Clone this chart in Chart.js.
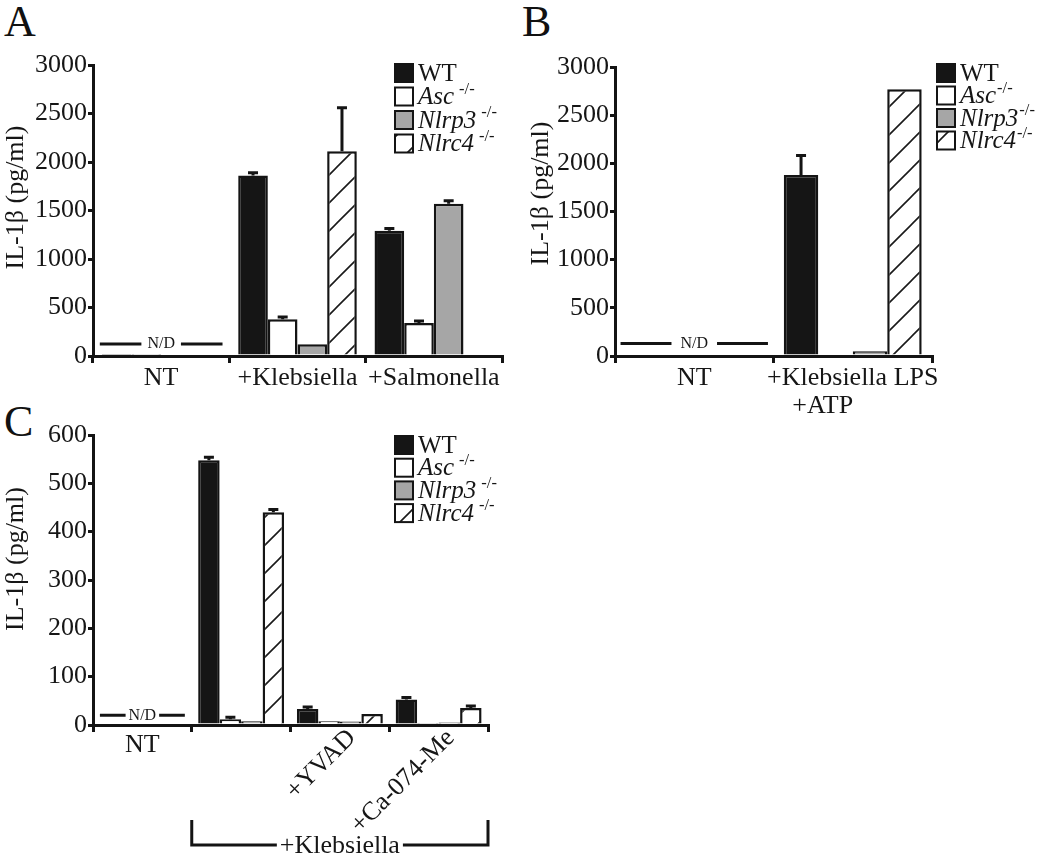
<!DOCTYPE html>
<html><head><meta charset="utf-8">
<script src="https://cdn.jsdelivr.net/npm/chart.js@4.4.0/dist/chart.umd.min.js"></script>
<style>
html,body{margin:0;padding:0;background:#fff;}
body{width:1050px;height:862px;position:relative;overflow:hidden;}
canvas{position:absolute;}
.letter{position:absolute;font-family:'Liberation Serif','Times New Roman',serif;font-size:44px;line-height:1;color:#111;}
</style></head><body>
<div class="letter" style="left:4px;top:0px">A</div>
<div class="letter" style="left:522px;top:0px">B</div>
<div class="letter" style="left:4px;top:400px">C</div>
<canvas id="cA" width="520" height="400" style="left:0;top:0"></canvas>
<canvas id="cB" width="530" height="430" style="left:520px;top:0"></canvas>
<canvas id="cC" width="520" height="472" style="left:0;top:390px"></canvas>
<script>
// ---------- data ----------
const seriesNames = ['WT', 'Asc', 'Nlrp3', 'Nlrc4'];
const koSuffix = '-/-';
const yTitle = 'IL-1\u03b2 (pg/ml)';
const ndText = 'N/D';

// Panel A
const catsA = ['NT', '+Klebsiella', '+Salmonella'];
const A_WT    = [20, 1860, 1290];
const A_Asc   = [10, 380, 340];
const A_Nlrp3 = [null, 120, 1570];
const A_Nlrc4 = [null, 2110, null];
const A_errWT    = [0, 20, 15];
const A_errAsc   = [0, 12, 10];
const A_errNlrp3 = [0, 0, 20];
const A_errNlrc4 = [0, 440, 0];
const yTicksA = [0, 500, 1000, 1500, 2000, 2500, 3000];
const ndA = 125;

// Panel B
const catsB = ['NT', '+Klebsiella LPS'];
const catsB2 = ['', '+ATP'];
const B_WT    = [null, 1880];
const B_Asc   = [null, null];
const B_Nlrp3 = [null, 50];
const B_Nlrc4 = [null, 2770];
const B_errWT    = [0, 190];
const B_errAsc   = [0, 0];
const B_errNlrp3 = [0, 0];
const B_errNlrc4 = [0, 0];
const yTicksB = [0, 500, 1000, 1500, 2000, 2500, 3000];
const ndB = 130;

// Panel C
const catsC = ['NT', '', '+YVAD', '+Ca-074-Me'];
const bracketC = '+Klebsiella';
const C_WT    = [null, 548, 33, 53];
const C_Asc   = [null, 12, 8, 2];
const C_Nlrp3 = [null, 8, 7, 5];
const C_Nlrc4 = [null, 440, 23, 35];
const C_errWT    = [0, 4, 2, 2];
const C_errAsc   = [0, 2, 0, 0];
const C_errNlrp3 = [0, 0, 0, 0];
const C_errNlrc4 = [0, 4, 0, 2];
const yTicksC = [0, 100, 200, 300, 400, 500, 600];
const ndC = 20;

// ---------- styles ----------
const SERIF = "'Liberation Serif','Times New Roman',serif";
const INK = '#141414';
const TXT = '#161616';
const fills = ['#151515', '#ffffff', '#a6a6a6', 'hatch'];

const hatchTile = (() => {
  const s = 28, c = document.createElement('canvas');
  c.width = c.height = s;
  const g = c.getContext('2d');
  g.fillStyle = '#fff'; g.fillRect(0, 0, s, s);
  g.strokeStyle = '#1a1a1a'; g.lineWidth = 1.6;
  g.beginPath();
  g.moveTo(-2, s + 2); g.lineTo(s + 2, -2);
  g.moveTo(-3, 3); g.lineTo(3, -3);
  g.moveTo(s - 3, s + 3); g.lineTo(s + 3, s - 3);
  g.stroke();
  return c;
})();
const patCache = new WeakMap();
function hatchFor(chart) {
  if (!patCache.has(chart)) patCache.set(chart, chart.ctx.createPattern(hatchTile, 'repeat'));
  return patCache.get(chart);
}
function fillFor(i, chart) { return fills[i] === 'hatch' ? hatchFor(chart) : fills[i]; }

function makeDatasets(values, errors) {
  return seriesNames.map((name, i) => ({
    label: name,
    data: values[i],
    errors: errors[i],
    backgroundColor: (c) => fillFor(i, c.chart),
    borderColor: INK,
    borderWidth: 2.5,
  }));
}

// ---------- plugins ----------
const errPlugin = {
  id: 'errbars',
  afterDatasetsDraw(chart) {
    const ctx = chart.ctx, y = chart.scales.y;
    ctx.save();
    ctx.strokeStyle = INK; ctx.lineWidth = 3;
    chart.data.datasets.forEach((ds, i) => {
      const meta = chart.getDatasetMeta(i);
      (ds.errors || []).forEach((e, j) => {
        const v = ds.data[j];
        if (v == null || !e) return;
        const x = meta.data[j].x;
        const y0 = y.getPixelForValue(v), y1 = y.getPixelForValue(v + e) - 1;
        ctx.beginPath();
        ctx.moveTo(x, y0); ctx.lineTo(x, y1);
        ctx.moveTo(x - 5, y1); ctx.lineTo(x + 5, y1);
        ctx.stroke();
      });
    });
    ctx.restore();
  }
};

const ndPlugin = {
  id: 'nd',
  afterDraw(chart, args, o) {
    if (o.value == null) return;
    const ctx = chart.ctx, xs = chart.scales.x, ys = chart.scales.y;
    const cx = xs.getPixelForValue(0);
    const half = (xs.getPixelForValue(1) - cx) / 2;
    const y = ys.getPixelForValue(o.value);
    ctx.save();
    ctx.font = `${o.size}px ${SERIF}`;
    const tw = ctx.measureText(ndText).width;
    ctx.fillStyle = TXT; ctx.textAlign = 'center'; ctx.textBaseline = 'middle';
    ctx.fillText(ndText, cx, y);
    ctx.strokeStyle = INK; ctx.lineWidth = 3;
    ctx.beginPath();
    ctx.moveTo(cx - half * o.frac, y); ctx.lineTo(cx - tw / 2 - o.gap, y);
    ctx.moveTo(cx + tw / 2 + o.gap, y); ctx.lineTo(cx + half * o.frac, y);
    ctx.stroke();
    ctx.restore();
  }
};

const keyPlugin = {
  id: 'key',
  afterDraw(chart, args, o) {
    const ctx = chart.ctx;
    ctx.save();
    seriesNames.forEach((name, i) => {
      const cy = o.y + i * o.row;
      const b = o.box;
      ctx.fillStyle = fillFor(i, chart);
      ctx.fillRect(o.x, cy - b / 2, b, b);
      ctx.strokeStyle = INK; ctx.lineWidth = 2;
      ctx.strokeRect(o.x, cy - b / 2, b, b);
      ctx.fillStyle = TXT; ctx.textAlign = 'left'; ctx.textBaseline = 'middle';
      const italic = i > 0;
      ctx.font = `${italic ? 'italic ' : ''}${o.size}px ${SERIF}`;
      const tx = o.x + b + 5;
      ctx.fillText(name, tx, cy + 1);
      if (italic) {
        const w = ctx.measureText(name).width;
        ctx.font = `${o.size * 0.66}px ${SERIF}`;
        ctx.fillText(koSuffix, tx + w + o.supGap, cy - 7);
      }
    });
    ctx.restore();
  }
};

const yTitlePlugin = {
  id: 'ytitle',
  afterDraw(chart, args, o) {
    const ctx = chart.ctx, a = chart.chartArea;
    ctx.save();
    ctx.translate(o.x, (a.top + a.bottom) / 2 + o.dy);
    ctx.rotate(-Math.PI / 2);
    ctx.font = `${o.size}px ${SERIF}`;
    ctx.fillStyle = TXT; ctx.textAlign = 'center'; ctx.textBaseline = 'middle';
    ctx.fillText(yTitle, 0, 0);
    ctx.restore();
  }
};

// custom x labels (panel B second line, panel C)
const xLabPlugin = {
  id: 'xlab',
  afterDraw(chart, args, o) {
    if (!o.mode) return;
    const ctx = chart.ctx, xs = chart.scales.x, a = chart.chartArea;
    ctx.save();
    ctx.fillStyle = TXT;
    if (o.mode === 'B') {
      ctx.font = `${o.size}px ${SERIF}`;
      ctx.textAlign = 'center'; ctx.textBaseline = 'middle';
      catsB2.forEach((t, i) => {
        if (!t) return;
        ctx.fillText(t, xs.getPixelForValue(i) + o.dx, a.bottom + o.dy);
      });
    } else if (o.mode === 'C') {
      catsC.forEach((t, i) => {
        if (!t) return;
        const x = xs.getPixelForValue(i);
        if (i === 0) {
          ctx.font = `26px ${SERIF}`;
          ctx.textAlign = 'center'; ctx.textBaseline = 'middle';
          ctx.fillText(t, x, a.bottom + 20);
        } else {
          ctx.font = `${o.size}px ${SERIF}`;
          ctx.save();
          ctx.translate(x + 12, a.bottom + 9);
          ctx.rotate(-Math.PI / 4);
          ctx.textAlign = 'right'; ctx.textBaseline = 'middle';
          ctx.fillText(t, 0, 0);
          ctx.restore();
        }
      });
      // bracket under +Klebsiella groups
      const left = (xs.getPixelForValue(0) + xs.getPixelForValue(1)) / 2;
      const right = a.right;
      const yb = a.bottom + 120, yt = a.bottom + 95;
      const mid = (left + right) / 2;
      ctx.font = `${o.size}px ${SERIF}`;
      const tw = ctx.measureText(bracketC).width;
      ctx.strokeStyle = INK; ctx.lineWidth = 3;
      ctx.beginPath();
      ctx.moveTo(left, yt); ctx.lineTo(left, yb); ctx.lineTo(mid - tw / 2 - 3, yb);
      ctx.moveTo(mid + tw / 2 + 3, yb); ctx.lineTo(right, yb); ctx.lineTo(right, yt);
      ctx.stroke();
      ctx.textAlign = 'center'; ctx.textBaseline = 'middle';
      ctx.fillText(bracketC, mid, yb + 1);
    }
    ctx.restore();
  }
};

function makeChart(id, cats, values, errors, yTicks, cfg) {
  return new Chart(document.getElementById(id), {
    type: 'bar',
    data: { labels: cats, datasets: makeDatasets(values, errors) },
    plugins: [errPlugin, ndPlugin, keyPlugin, yTitlePlugin, xLabPlugin],
    options: {
      responsive: false, animation: false, devicePixelRatio: 1,
      layout: { padding: { left: 0, right: cfg.padR, top: cfg.padT, bottom: 0 } },
      datasets: { bar: { categoryPercentage: 0.87, barPercentage: 1 } },
      plugins: {
        legend: { display: false }, tooltip: { enabled: false },
        nd: cfg.nd, key: cfg.key, ytitle: cfg.ytitle, xlab: cfg.xlab || {},
      },
      scales: {
        x: {
          type: 'category', offset: true,
          grid: { offset: true, drawOnChartArea: false, drawTicks: true, tickLength: 7, lineWidth: 3, color: INK },
          border: { display: true, width: 3, color: INK },
          ticks: { display: cfg.xTicks, font: { family: SERIF, size: 26 }, color: TXT, padding: 0, maxRotation: 0, minRotation: 0, autoSkip: false },
          afterFit: (s) => { s.height = cfg.xH; },
        },
        y: {
          min: yTicks[0], max: yTicks[yTicks.length - 1],
          afterBuildTicks: (s) => { s.ticks = yTicks.map(v => ({ value: v })); },
          grid: { drawOnChartArea: false, drawTicks: true, tickLength: 5, lineWidth: 3, color: INK },
          border: { display: true, width: 3, color: INK },
          ticks: { font: { family: SERIF, size: 26 }, color: TXT, padding: 1, callback: (v) => String(v) },
          afterFit: (s) => { s.width = cfg.yW; },
        },
      },
    },
  });
}

makeChart('cA', catsA,
  [A_WT, A_Asc, A_Nlrp3, A_Nlrc4],
  [A_errWT, A_errAsc, A_errNlrp3, A_errNlrc4], yTicksA,
  { padR: 18, padT: 65, xH: 44, yW: 93, xTicks: true,
    nd: { value: ndA, frac: 0.9, gap: 6, size: 16 },
    key: { x: 395, y: 73, row: 23.5, box: 18, size: 25, supGap: 5 },
    ytitle: { x: 16, dy: -13, size: 26 } });

makeChart('cB', catsB,
  [B_WT, B_Asc, B_Nlrp3, B_Nlrc4],
  [B_errWT, B_errAsc, B_errNlrp3, B_errNlrc4], yTicksB,
  { padR: 118, padT: 67, xH: 74, yW: 95, xTicks: true,
    nd: { value: ndB, frac: 0.93, gap: 9, size: 16 },
    key: { x: 417, y: 73, row: 22.5, box: 18, size: 25, supGap: 1 },
    ytitle: { x: 21, dy: -18, size: 26 },
    xlab: { mode: 'B', dx: -30, dy: 50, size: 26 } });

makeChart('cC', catsC,
  [C_WT, C_Asc, C_Nlrp3, C_Nlrc4],
  [C_errWT, C_errAsc, C_errNlrp3, C_errNlrc4], yTicksC,
  { padR: 32, padT: 45, xH: 137, yW: 93, xTicks: false,
    nd: { value: ndC, frac: 0.86, gap: 3, size: 16 },
    key: { x: 395, y: 55, row: 22.7, box: 18, size: 25, supGap: 5 },
    ytitle: { x: 16, dy: -21, size: 26 },
    xlab: { mode: 'C', size: 26 } });
</script>
</body></html>
